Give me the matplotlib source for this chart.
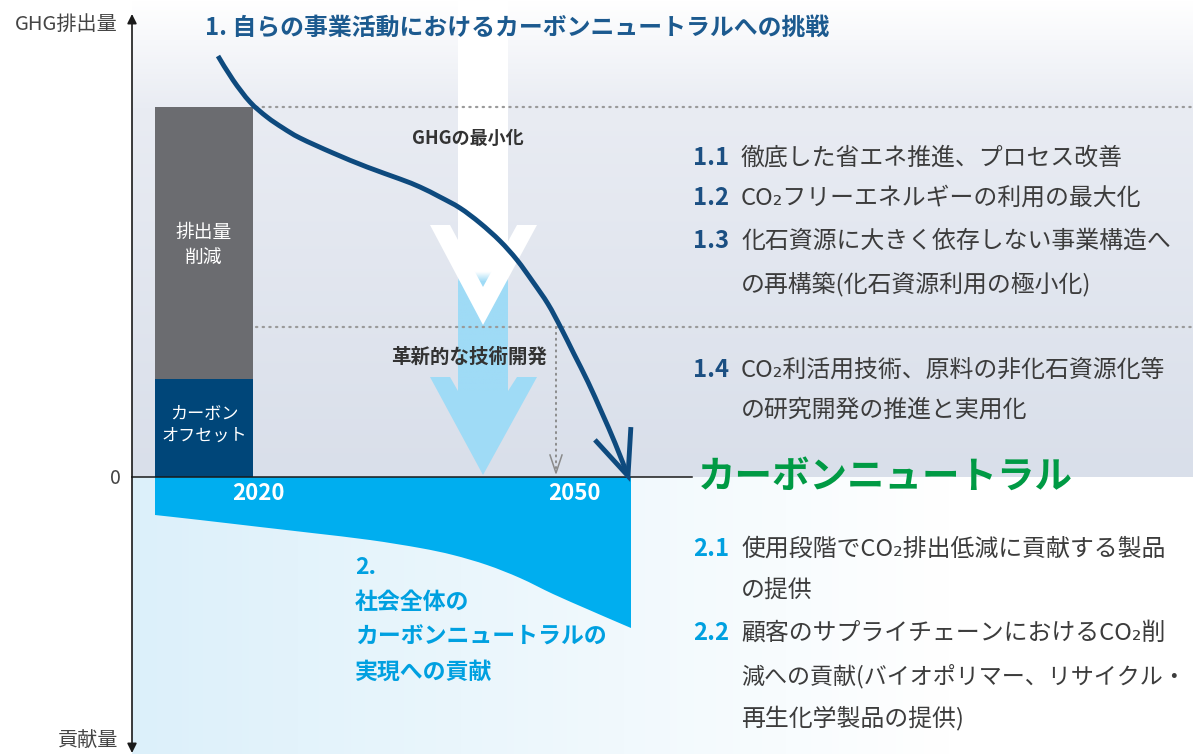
import numpy as np
import matplotlib.pyplot as plt
from matplotlib.colors import to_rgb
from matplotlib.patches import Polygon, PathPatch
from matplotlib.path import Path

plt.rcParams['font.family'] = ['Noto Sans CJK JP', 'DejaVu Sans']

# =====================================================
# Data  (x = horizontal position, y = GHG level, 0 = net zero)
# =====================================================

bar_labels = ["カーボン\nオフセット", "排出量\n削減"]
bar_values = [98, 272]

curve_x = [218, 233, 250, 267, 283, 300, 333, 367, 400, 420, 440, 460,
           480, 500, 517, 533, 548, 561, 574, 588, 602, 615, 628]
curve_y = [421, 397, 375, 360, 349, 339, 324, 310, 298, 290, 280, 269,
           254, 236, 217, 195, 173, 149, 123, 95, 64, 34, 1]

contrib_x = [155, 200, 260, 312, 370, 420, 453, 487, 520, 553, 587, 610, 631]
contrib_y = [-38, -43, -50, -56, -63, -71, -78, -88, -101, -117, -132, -142, -151]

year_labels = ["2020", "2050"]

title_1 = "1. 自らの事業活動におけるカーボンニュートラルへの挑戦"
title_2 = ["2.", "社会全体の", "カーボンニュートラルの", "実現への貢献"]

items_1_num = ["1.1", "1.2", "1.3", "", "1.4", ""]
items_1_text = ["徹底した省エネ推進、プロセス改善",
                "CO₂フリーエネルギーの利用の最大化",
                "化石資源に大きく依存しない事業構造へ",
                "の再構築(化石資源利用の極小化)",
                "CO₂利活用技術、原料の非化石資源化等",
                "の研究開発の推進と実用化"]
items_1_y = [319, 279, 236, 193, 107, 67]

items_2_num = ["2.1", "", "2.2", "", ""]
items_2_text = ["使用段階でCO₂排出低減に貢献する製品",
                "の提供",
                "顧客のサプライチェーンにおけるCO₂削",
                "減への貢献(バイオポリマー、リサイクル・",
                "再生化学製品の提供)"]
items_2_y = [-72, -113, -156, -199, -241]

NAVY = "#0e4a7e"
CYAN = "#00aeef"
CYAN_TXT = "#00a0e0"
LIGHT_BLUE = "#9fdbf6"
GRAY_TXT = "#3c3c3c"


def smooth_path(xs, ys):
    # cubic bezier path through the given points
    P = np.column_stack([xs, ys]).astype(float)
    n = len(P)
    verts = [P[0]]
    codes = [Path.MOVETO]
    for i in range(n - 1):
        p0 = P[i - 1] if i > 0 else P[i]
        p3 = P[i + 2] if i + 2 < n else P[i + 1]
        verts += [P[i] + (P[i + 1] - p0) / 6, P[i + 1] - (p3 - P[i]) / 6, P[i + 1]]
        codes += [Path.CURVE4] * 3
    return verts, codes


# =====================================================
# Figure
# =====================================================

fig = plt.figure(figsize=(11.93, 7.54), dpi=100)
ax = fig.add_axes([0, 0, 1, 1])
ax.axis("off")

# upper background (vertical gradient)
h = np.linspace(477, 0, 200)
top = np.array(to_rgb("#ffffff"))
mid = np.array(to_rgb("#e9ecf3"))
bot = np.array(to_rgb("#d9dfea"))
up_cols = np.where((h > 370)[:, None],
                   top + (mid - top) * ((477 - h) / 107)[:, None],
                   mid + (bot - mid) * ((370 - h) / 370)[:, None])
ax.imshow(up_cols[:, None, :], extent=[132, 1193, 0, 477], origin="upper",
          aspect="auto", zorder=0)

# lower background (horizontal gradient)
xs = np.linspace(132, 1193, 300)
t = np.clip((xs - 132) / (950 - 132), 0, 1)[:, None]
lo0 = np.array(to_rgb("#dcf0fa"))
lo_cols = lo0 + (1 - lo0) * t
ax.imshow(lo_cols[None, :, :], extent=[132, 1193, -277, 0], origin="upper",
          aspect="auto", zorder=0)

# =====================================================
# Big arrows (GHG minimisation / innovation)
# =====================================================

hs = np.linspace(477, 85, 400)
w = np.clip((205 - hs) / 10, 0, 1)[:, None]
white = np.ones(3)
lb = np.array(to_rgb(LIGHT_BLUE))
shaft = white + (lb - white) * w
ax.imshow(shaft[:, None, :], extent=[458, 508, 85, 477], origin="upper",
          aspect="auto", zorder=1)

ax.add_patch(Polygon([(458, 86), (450, 100), (430, 100), (483, 2),
                      (537, 100), (517, 100), (508, 86)],
                     closed=True, fc=LIGHT_BLUE, ec="none", zorder=1))
ax.add_patch(Polygon([(430, 252), (483, 152), (537, 252), (517, 252),
                      (483, 190), (450, 252)],
                     closed=True, fc="white", ec="none", zorder=2))

# dotted guide lines
for yy in [370, 150]:
    ax.plot([256, 1193], [yy, yy], color="#9a9a9a", lw=1.6,
            linestyle=(0, (0.6, 2.4)), dash_capstyle="round", zorder=2)
ax.plot([556, 556], [150, 6], color="#8a8a8a", lw=1.4,
        linestyle=(0, (0.6, 2.4)), dash_capstyle="round", zorder=2)
ax.plot([550, 556, 562], [22, 4, 22], color="#8a8a8a", lw=1.1, zorder=2)

# =====================================================
# Bar 2020
# =====================================================

bar_colors = ["#004679", "#6b6c70"]
ax.bar(204, bar_values[0], width=98, color=bar_colors[0], zorder=3)
ax.bar(204, bar_values[1], width=98, bottom=bar_values[0],
       color=bar_colors[1], zorder=3)
ax.text(204, bar_values[0] / 2 + 3, bar_labels[0], color="white",
        fontsize=12.3, ha="center", va="center", linespacing=1.3, zorder=6)
ax.text(204, bar_values[0] + bar_values[1] / 2 - 2, bar_labels[1], color="white",
        fontsize=13.5, ha="center", va="center", linespacing=1.25, zorder=6)

# contribution area (below zero)
v, c = smooth_path(contrib_x[::-1], contrib_y[::-1])
v = [(155, 0), (631, 0)] + v + [(155, 0)]
c = [Path.MOVETO, Path.LINETO, Path.LINETO] + c[1:] + [Path.CLOSEPOLY]
ax.add_patch(PathPatch(Path(v, c), fc=CYAN, ec="none", zorder=3))

ax.text(258, -17, year_labels[0], color="white", fontsize=16,
        fontweight="bold", ha="center", va="center", zorder=6)
ax.text(574, -17, year_labels[1], color="white", fontsize=16,
        fontweight="bold", ha="center", va="center", zorder=6)

# =====================================================
# Emission curve
# =====================================================

v, c = smooth_path(curve_x, curve_y)
ax.add_patch(PathPatch(Path(v, c), fill=False, ec=NAVY, lw=3.5,
                       capstyle="butt", joinstyle="round", zorder=5))
tip = np.array([curve_x[-1], curve_y[-1]])
back = np.array([curve_x[-3], curve_y[-3]]) - tip
ang = np.arctan2(back[1], back[0]) - 0.05
arm = 49
left = tip + arm * np.array([np.cos(ang + 0.40), np.sin(ang + 0.40)])
right = tip + arm * np.array([np.cos(ang - 0.40), np.sin(ang - 0.40)])
ax.plot([left[0], tip[0], right[0]], [left[1], tip[1], right[1]],
        color=NAVY, lw=3.5, solid_joinstyle="miter", solid_capstyle="butt",
        zorder=5)

# =====================================================
# Axes
# =====================================================

ax.annotate("", xy=(132, 463), xytext=(132, 0),
            arrowprops=dict(arrowstyle="-|>", lw=1.2, color="#1a1a1a",
                            mutation_scale=14, shrinkA=0, shrinkB=0), zorder=6)
ax.annotate("", xy=(132, -276), xytext=(132, 0),
            arrowprops=dict(arrowstyle="-|>", lw=1.2, color="#1a1a1a",
                            mutation_scale=14, shrinkA=0, shrinkB=0), zorder=6)
ax.plot([132, 692], [0, 0], color="#1a1a1a", lw=1.1, zorder=4)

ax.text(118, 452, "GHG排出量", fontsize=14.5, color="#444444",
        ha="right", va="center")
ax.text(121, -1, "0", fontsize=14, color="#444444", ha="right", va="center")
ax.text(118, -264, "貢献量", fontsize=14.5, color="#444444",
        ha="right", va="center")

# =====================================================
# Texts
# =====================================================

ax.text(205, 449, title_1, fontsize=17.2, fontweight="bold", color="#1c5a8f",
        ha="left", va="center", zorder=6)
ax.text(468, 339, "GHGの最小化", fontsize=13, fontweight="bold",
        color="#333333", ha="center", va="center", zorder=6)
ax.text(469, 120, "革新的な技術開発", fontsize=14, fontweight="bold",
        color="#333333", ha="center", va="center", zorder=6)

ax.text(698, 1, "カーボンニュートラル", fontsize=27, fontweight="bold",
        color="#009a44", ha="left", va="center", zorder=6)

for num, txt, yy in zip(items_1_num, items_1_text, items_1_y):
    if num:
        ax.text(693, yy, num, fontsize=17.2, fontweight="bold", color="#1b4f82",
                ha="left", va="center", zorder=6)
    ax.text(741, yy, txt, fontsize=17.2, color=GRAY_TXT,
            ha="left", va="center", zorder=6)

for num, txt, yy in zip(items_2_num, items_2_text, items_2_y):
    if num:
        ax.text(693, yy, num, fontsize=17.2, fontweight="bold", color=CYAN_TXT,
                ha="left", va="center", zorder=6)
    fs = 16.6 if len(txt) > 19 else 17.2
    ax.text(741, yy, txt, fontsize=fs, color=GRAY_TXT,
            ha="left", va="center", zorder=6)

for txt, yy in zip(title_2, [-91, -125, -160, -195]):
    ax.text(355, yy, txt, fontsize=16.5, fontweight="bold", color=CYAN_TXT,
            ha="left", va="center", zorder=6)

ax.set_xlim(0, 1193)
ax.set_ylim(-277, 477)

fig.savefig("out.png", dpi=100)
